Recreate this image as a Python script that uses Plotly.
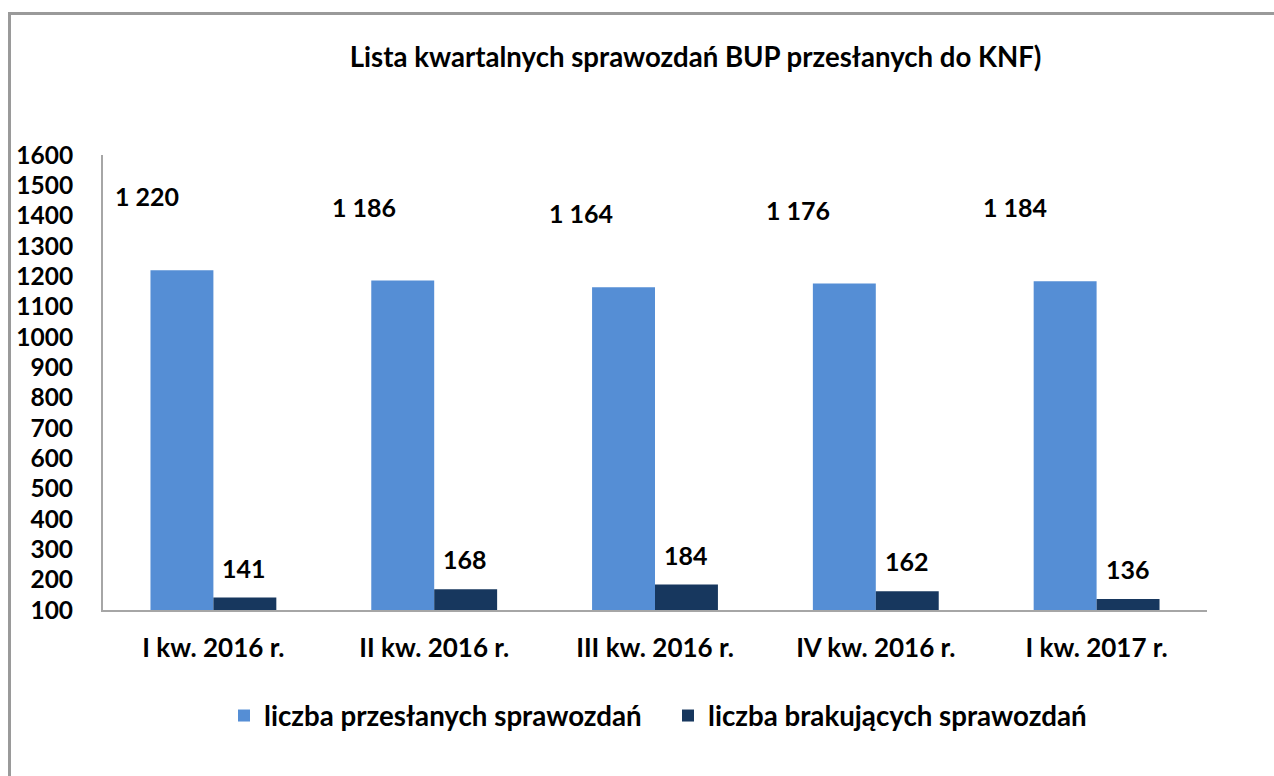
import plotly.graph_objects as go

categories = ["I kw. 2016 r.", "II kw. 2016 r.", "III kw. 2016 r.", "IV kw. 2016 r.", "I kw. 2017 r."]
sent = [1220, 1186, 1164, 1176, 1184]
missing = [141, 168, 184, 162, 136]
sent_labels = ["1 220", "1 186", "1 164", "1 176", "1 184"]
missing_labels = ["141", "168", "184", "162", "136"]
yticks = list(range(100, 1700, 100))

FONT = "Lato"
BLUE = "#558ED5"
NAVY = "#17375E"

fig = go.Figure()
fig.add_trace(go.Bar(x=categories, y=[v - 100 for v in sent], base=100,
                     name="liczba przesłanych sprawozdań", marker_color=BLUE,
                     marker_line_width=0, hoverinfo="skip"))
fig.add_trace(go.Bar(x=categories, y=[v - 100 for v in missing], base=100,
                     name="liczba brakujących sprawozdań", marker_color=NAVY,
                     marker_line_width=0, hoverinfo="skip"))

ann = []
for i, (c, v, t) in enumerate(zip(categories, sent, sent_labels)):
    ann.append(dict(x=c, y=v, xref="x", yref="y", text=t, showarrow=False,
                    xshift=-66 - 4 * i, yshift=74, yanchor="middle",
                    font=dict(family=FONT, size=25, color="black", weight="bold")))
for c, v, t in zip(categories, missing, missing_labels):
    ann.append(dict(x=c, y=v, xref="x", yref="y", text=t, showarrow=False,
                    xshift=31, yshift=30, yanchor="middle",
                    font=dict(family=FONT, size=25, color="black", weight="bold")))

fig.update_layout(
    width=1274, height=776,
    margin=dict(l=103, r=67, t=155, b=166),
    paper_bgcolor="white", plot_bgcolor="white",
    barmode="group", bargap=0.43, bargroupgap=0,
    title=dict(text="<b>Lista kwartalnych sprawozdań BUP przesłanych do KNF)</b>",
               x=0.546, xanchor="center", y=1 - 57 / 776, yanchor="middle",
               font=dict(family=FONT, size=27.6, color="black")),
    legend=dict(orientation="h", x=(224 - 103) / 1104, xanchor="left", y=-0.233, yanchor="middle",
                font=dict(family=FONT, size=27.7, color="black", weight="bold"),
                entrywidth=399, entrywidthmode="pixels", traceorder="normal"),
    annotations=ann,
    showlegend=True,
)
fig.update_xaxes(showline=True, linecolor="#A6A6A6", linewidth=2, showgrid=False,
                 ticks="outside", ticklen=0, ticklabelstandoff=14,
                 tickfont=dict(family=FONT, size=26, color="black", weight="bold"))
fig.update_yaxes(range=[100, 1600], tickvals=yticks, showline=True, linecolor="#A6A6A6",
                 linewidth=2, showgrid=False, zeroline=False, ticks="", ticklabelstandoff=23,
                 tickfont=dict(family=FONT, size=24.5, color="black", weight="bold"))

# outer frame (left and top edges visible)
fx = (9.5 - 103) / 1104
fy = (610 - 13.5) / 455
fig.add_shape(type="rect", xref="paper", yref="paper", x0=fx, y0=-0.6, x1=1.3, y1=fy,
              line=dict(color="#9A9A9A", width=3), fillcolor="rgba(0,0,0,0)", layer="below")

fig.write_html("out.html", config={"displayModeBar": False},
               post_script="document.body.style.margin='0';")
